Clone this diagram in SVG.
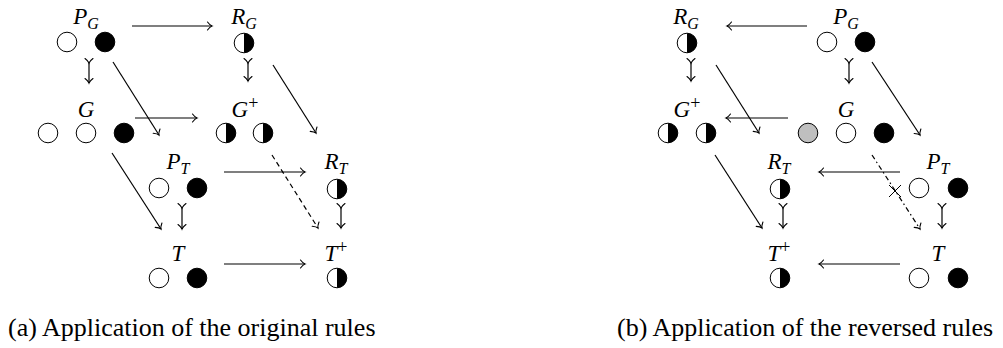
<svg xmlns="http://www.w3.org/2000/svg" width="1003" height="348" viewBox="0 0 1003 348">
<style>
text{font-family:'Liberation Serif','Times New Roman',Times,serif}
.lbl{font-style:italic;font-size:23px;fill:#000}
.sub{font-size:16px}
.sup{font-size:18px;font-style:normal}
.cap{font-size:26px;fill:#000}
.ar{stroke:#000;stroke-width:1.2;fill:none;marker-end:url(#ah)}
.hk{stroke:#000;stroke-width:1.2;fill:none;marker-end:url(#ah);marker-start:url(#ah)}
.ds{stroke-dasharray:5 3.5}
.dd{stroke-dasharray:5 3 1.5 3}
</style>
<defs>
<marker id="ah" markerUnits="userSpaceOnUse" markerWidth="14" markerHeight="14" viewBox="-7 -7 14 14" refX="0" refY="0" orient="auto" overflow="visible">
<path d="M-4.5,-4 Q-2,-0.7 0,0 Q-2,0.7 -4.5,4" fill="none" stroke="#000" stroke-width="1.1" stroke-linecap="round"/>
</marker>
<circle id="wc" r="9.8" fill="#fff" stroke="#000" stroke-width="1"/>
<circle id="bc" r="9.8" fill="#000" stroke="#000" stroke-width="1"/>
<circle id="gc" r="9.8" fill="#bfbfbf" stroke="#000" stroke-width="1"/>
<g id="hc"><circle r="9.8" fill="#fff"/><path d="M0,-9.8 A9.8,9.8 0 0 1 0,9.8 Z" fill="#000"/><circle r="9.8" fill="none" stroke="#000" stroke-width="1"/></g>
</defs>

<!-- Left panel nodes -->
<g id="a-PG"><text class="lbl" x="86" y="24" text-anchor="middle">P<tspan class="sub" dy="5">G</tspan></text><use href="#wc" x="67" y="42"/><use href="#bc" x="105" y="42"/></g>
<g id="a-RG"><text class="lbl" x="244" y="24" text-anchor="middle">R<tspan class="sub" dy="5">G</tspan></text><use href="#hc" x="244" y="43"/></g>
<g id="a-G"><text class="lbl" x="86" y="117" text-anchor="middle">G</text><use href="#wc" x="48" y="133"/><use href="#wc" x="86" y="133"/><use href="#bc" x="124" y="133"/></g>
<g id="a-Gp"><text class="lbl" x="245" y="117" text-anchor="middle">G<tspan class="sup" dy="-8">+</tspan></text><use href="#hc" x="226" y="133"/><use href="#hc" x="263" y="133"/></g>
<g id="a-PT"><text class="lbl" x="178" y="169" text-anchor="middle">P<tspan class="sub" dy="5">T</tspan></text><use href="#wc" x="159" y="188"/><use href="#bc" x="197" y="188"/></g>
<g id="a-RT"><text class="lbl" x="336" y="169" text-anchor="middle">R<tspan class="sub" dy="5">T</tspan></text><use href="#hc" x="337" y="189"/></g>
<g id="a-T"><text class="lbl" x="178" y="261" text-anchor="middle">T</text><use href="#wc" x="159" y="278"/><use href="#bc" x="197" y="278"/></g>
<g id="a-Tp"><text class="lbl" x="336" y="261" text-anchor="middle">T<tspan class="sup" dy="-8">+</tspan></text><use href="#hc" x="337" y="278"/></g>

<!-- Right panel nodes -->
<g id="b-RG"><text class="lbl" x="686" y="24" text-anchor="middle">R<tspan class="sub" dy="5">G</tspan></text><use href="#hc" x="687" y="43"/></g>
<g id="b-PG"><text class="lbl" x="846" y="24" text-anchor="middle">P<tspan class="sub" dy="5">G</tspan></text><use href="#wc" x="827" y="42"/><use href="#bc" x="865" y="42"/></g>
<g id="b-Gp"><text class="lbl" x="687" y="117" text-anchor="middle">G<tspan class="sup" dy="-8">+</tspan></text><use href="#hc" x="668" y="133"/><use href="#hc" x="706" y="133"/></g>
<g id="b-G"><text class="lbl" x="846" y="117" text-anchor="middle">G</text><use href="#gc" x="808" y="133"/><use href="#wc" x="846" y="133"/><use href="#bc" x="884" y="133"/></g>
<g id="b-RT"><text class="lbl" x="779" y="169" text-anchor="middle">R<tspan class="sub" dy="5">T</tspan></text><use href="#hc" x="780" y="189"/></g>
<g id="b-PT"><text class="lbl" x="938" y="169" text-anchor="middle">P<tspan class="sub" dy="5">T</tspan></text><use href="#wc" x="919" y="188"/><use href="#bc" x="958" y="188"/></g>
<g id="b-Tp"><text class="lbl" x="779" y="261" text-anchor="middle">T<tspan class="sup" dy="-8">+</tspan></text><use href="#hc" x="780" y="278"/></g>
<g id="b-T"><text class="lbl" x="938" y="261" text-anchor="middle">T</text><use href="#wc" x="919" y="278"/><use href="#bc" x="958" y="278"/></g>

<!-- Connectors -->
<g id="connectors">
<line class="ar" x1="132" y1="26" x2="212" y2="26"/>
<line class="hk" x1="89" y1="63" x2="89" y2="83"/>
<line class="ar" x1="113" y1="62" x2="159" y2="135"/>
<line class="hk" x1="248" y1="63" x2="248" y2="81"/>
<line class="ar" x1="273" y1="65" x2="316" y2="133"/>
<line class="ar" x1="135" y1="118" x2="197" y2="118"/>
<line class="ar" x1="112" y1="153" x2="161" y2="229"/>
<line class="ar ds" x1="272" y1="155" x2="318" y2="228"/>
<line class="ar" x1="224" y1="172" x2="305" y2="172"/>
<line class="hk" x1="182" y1="208" x2="182" y2="229"/>
<line class="hk" x1="341" y1="208" x2="341" y2="228"/>
<line class="ar" x1="224" y1="264" x2="305" y2="264"/>

<line class="ar" x1="807" y1="26" x2="727" y2="26"/>
<line class="hk" x1="691" y1="63" x2="691" y2="81"/>
<line class="ar" x1="716" y1="65" x2="759" y2="133"/>
<line class="hk" x1="849" y1="63" x2="849" y2="83"/>
<line class="ar" x1="872" y1="62" x2="920" y2="135"/>
<line class="ar" x1="788" y1="118" x2="726" y2="118"/>
<line class="ar" x1="715" y1="155" x2="762" y2="228"/>
<line class="ar dd" x1="872" y1="155" x2="920" y2="229"/>
<path d="M889,185 L901,197 M901,185 L889,197" stroke="#000" stroke-width="1" fill="none"/>
<line class="ar" x1="900" y1="172" x2="819" y2="172"/>
<line class="hk" x1="783" y1="208" x2="783" y2="228"/>
<line class="hk" x1="942" y1="208" x2="942" y2="228"/>
<line class="ar" x1="900" y1="264" x2="819" y2="264"/>
</g>

<text class="cap" x="8" y="336">(a) Application of the original rules</text>
<text class="cap" x="617" y="336">(b) Application of the reversed rules</text>
</svg>
